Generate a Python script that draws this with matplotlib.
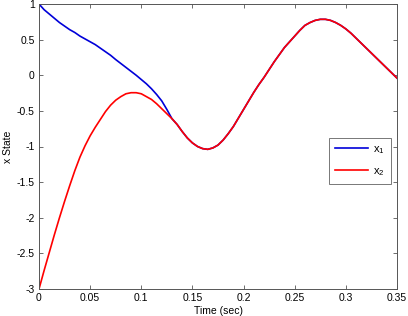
import matplotlib
matplotlib.use("Agg")
import matplotlib.pyplot as plt

time_s = [0.000, 0.005, 0.010, 0.015, 0.020, 0.025, 0.030, 0.035, 0.040, 0.045,
          0.050, 0.055, 0.060, 0.065, 0.070, 0.075, 0.080, 0.085, 0.090, 0.095,
          0.100, 0.105, 0.110, 0.115, 0.120, 0.125, 0.130, 0.135, 0.140, 0.145,
          0.150, 0.155, 0.160, 0.165, 0.170, 0.175, 0.180, 0.185, 0.190, 0.195,
          0.200, 0.205, 0.210, 0.215, 0.220, 0.225, 0.230, 0.235, 0.240, 0.245,
          0.250, 0.255, 0.260, 0.265, 0.270, 0.275, 0.280, 0.285, 0.290, 0.295,
          0.300, 0.305, 0.310, 0.315, 0.320, 0.325, 0.330, 0.335, 0.340, 0.345,
          0.350]

x1_values = [1.00, 0.92, 0.86, 0.80, 0.74, 0.69, 0.64, 0.60, 0.55, 0.51,
             0.47, 0.43, 0.38, 0.33, 0.28, 0.22, 0.165, 0.11, 0.055, 0.0,
             -0.06, -0.12, -0.19, -0.27, -0.36, -0.48, -0.61, -0.69, -0.79, -0.88,
             -0.95, -1.00, -1.03, -1.04, -1.02, -0.98, -0.91, -0.82, -0.72, -0.60,
             -0.48, -0.36, -0.24, -0.13, -0.03, 0.08, 0.19, 0.29, 0.39, 0.47,
             0.55, 0.63, 0.70, 0.74, 0.77, 0.785, 0.785, 0.77, 0.74, 0.70,
             0.65, 0.59, 0.52, 0.45, 0.38, 0.31, 0.24, 0.17, 0.10, 0.03,
             -0.04]

x2_values = [-3.00, -2.74, -2.49, -2.24, -2.00, -1.77, -1.55, -1.34, -1.15, -0.99,
             -0.85, -0.73, -0.62, -0.51, -0.42, -0.35, -0.30, -0.26, -0.245, -0.245,
             -0.26, -0.30, -0.34, -0.40, -0.47, -0.54, -0.61, -0.69, -0.79, -0.88,
             -0.95, -1.00, -1.03, -1.04, -1.02, -0.98, -0.91, -0.82, -0.72, -0.60,
             -0.48, -0.36, -0.24, -0.13, -0.03, 0.08, 0.19, 0.29, 0.39, 0.47,
             0.55, 0.63, 0.70, 0.74, 0.77, 0.785, 0.785, 0.77, 0.74, 0.70,
             0.65, 0.59, 0.52, 0.45, 0.38, 0.31, 0.24, 0.17, 0.10, 0.03,
             -0.04]

x_ticks = [0, 0.05, 0.1, 0.15, 0.2, 0.25, 0.3, 0.35]
x_tick_labels = ["0", "0.05", "0.1", "0.15", "0.2", "0.25", "0.3", "0.35"]
y_ticks = [-3, -2.5, -2, -1.5, -1, -0.5, 0, 0.5, 1]
y_tick_labels = ["-3", "-2.5", "-2", "-1.5", "-1", "-0.5", "0", "0.5", "1"]

plt.rcParams['font.family'] = ['Liberation Sans', 'DejaVu Sans']
plt.rcParams['mathtext.fontset'] = 'custom'
plt.rcParams['mathtext.rm'] = 'Liberation Sans'
plt.rcParams['mathtext.it'] = 'Liberation Sans'

fig = plt.figure(figsize=(4.08, 3.16), dpi=100)
ax = fig.add_axes([39/408, 1-289/316, (397-39)/408, (289-4)/316])

ax.plot(time_s, x1_values, color=(0, 0, 0.85), lw=1.2, label=r'$\mathrm{x}_1$')
ax.plot(time_s, x2_values, color=(1, 0, 0), lw=1.2, label=r'$\mathrm{x}_2$')

ax.set_xlim(0, 0.35)
ax.set_ylim(-3, 1)
ax.set_xticks(x_ticks)
ax.set_xticklabels(x_tick_labels)
ax.set_yticks(y_ticks)
ax.set_yticklabels(y_tick_labels)
ax.tick_params(direction='in', length=3, width=0.6, color='#555555',
               labelsize=7.5, top=True, right=True, pad=3)
for s in ax.spines.values():
    s.set_color('#555555')
    s.set_linewidth(0.7)

ax.set_xlabel('Time (sec)', fontsize=7.5, labelpad=2)
ax.set_ylabel('x State', fontsize=7.5, labelpad=3)

leg = ax.legend(loc='upper left', bbox_to_anchor=(0.81, 0.53), fontsize=8,
                frameon=True, fancybox=False, handlelength=3.0,
                borderpad=0.55, labelspacing=0.9, handletextpad=0.45,
                borderaxespad=0)
leg.get_frame().set_edgecolor('#555555')
leg.get_frame().set_linewidth(0.7)

fig.savefig('out.png', dpi=100)
